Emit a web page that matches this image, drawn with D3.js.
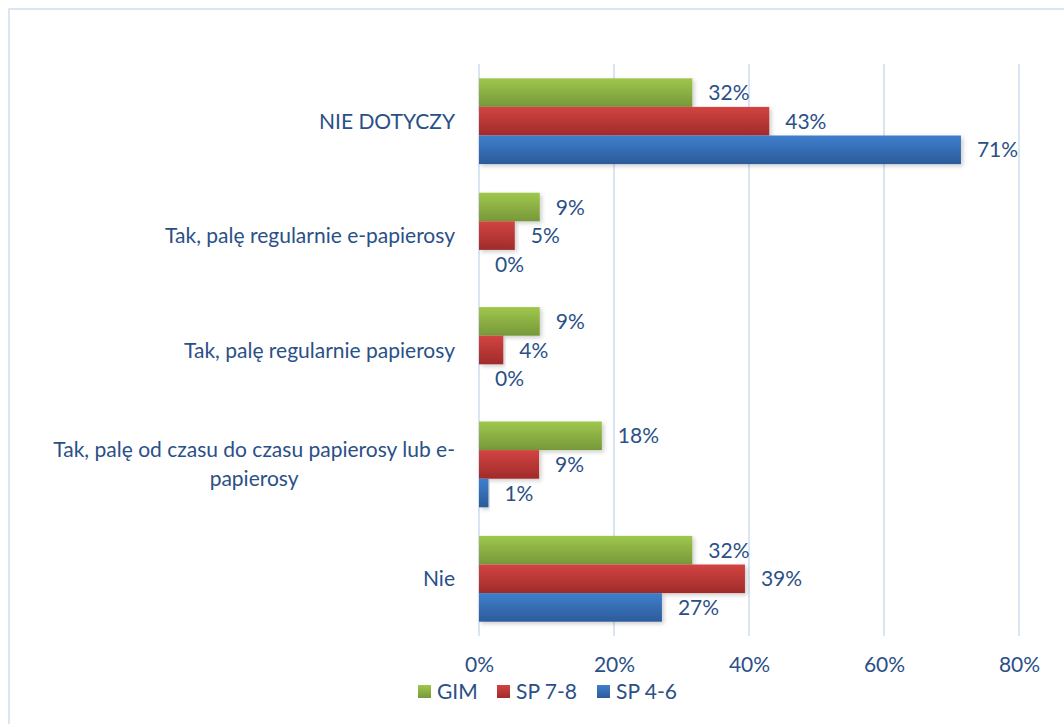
<!DOCTYPE html>
<html>
<head>
<meta charset="utf-8">
<script src="https://cdn.jsdelivr.net/npm/d3@7"></script>
<style>
  html, body { margin: 0; padding: 0; background: #fff; }
  svg { display: block; }
  text { font-family: Lato, "Open Sans", sans-serif; fill: #2a5087; }
</style>
</head>
<body>
<svg id="chart" width="1064" height="724"></svg>
<script>
const categories = [
  ["NIE DOTYCZY"],
  ["Tak, palę regularnie e-papierosy"],
  ["Tak, palę regularnie papierosy"],
  ["Tak, palę od czasu do czasu papierosy lub e-", "papierosy"],
  ["Nie"]
];
const seriesNames = ["GIM", "SP 7-8", "SP 4-6"];
const gim  = [31.6, 9.0, 9.0, 18.2, 31.6];
const sp78 = [43.0, 5.3, 3.6, 8.9, 39.4];
const sp46 = [71.4, 0.0, 0.0, 1.4, 27.1];
const tickValues = [0, 20, 40, 60, 80];
const seriesValues = [gim, sp78, sp46];
const colors = [
  ["#9fc74c", "#77983a"],
  ["#d24442", "#a02b2a"],
  ["#3f7fcd", "#2c5b9a"]
];
const FS = 21;

const svg = d3.select("#chart");
const defs = svg.append("defs");
colors.forEach((c, i) => {
  const g = defs.append("linearGradient").attr("id", "grad" + i)
    .attr("x1", 0).attr("y1", 0).attr("x2", 0).attr("y2", 1);
  g.append("stop").attr("offset", "0%").attr("stop-color", c[0]);
  g.append("stop").attr("offset", "100%").attr("stop-color", c[1]);
});
const f = defs.append("filter").attr("id", "shadow")
  .attr("x", "-5%").attr("y", "-20%").attr("width", "115%").attr("height", "160%");
f.append("feDropShadow").attr("dx", 2).attr("dy", 2).attr("stdDeviation", 2)
  .attr("flood-color", "#000").attr("flood-opacity", 0.2);

// frame
svg.append("path")
  .attr("d", "M9,724 L9,9 L1064,9")
  .attr("fill", "none").attr("stroke", "#dbe6f4").attr("stroke-width", 2);

const x = d3.scaleLinear().domain([0, 80]).range([479, 1019]);
const y = d3.scaleBand().domain(d3.range(categories.length)).range([64, 636]).paddingInner(0.25).paddingOuter(0.125);
const yInner = d3.scaleBand().domain(d3.range(seriesNames.length)).range([0, y.bandwidth()]);

// gridlines
svg.append("g").selectAll("line").data(tickValues).join("line")
  .attr("x1", d => x(d)).attr("x2", d => x(d))
  .attr("y1", 64).attr("y2", 636)
  .attr("stroke", "#d9e5f3").attr("stroke-width", 2);

// x axis labels via d3 axis
const xAxis = d3.axisBottom(x).tickValues(tickValues).tickFormat(d => d + "%").tickSize(0).tickPadding(0);
const ax = svg.append("g").attr("transform", "translate(0,657)").call(xAxis);
ax.select(".domain").remove();
ax.selectAll("text").attr("font-size", FS).attr("fill", "#2a5087")
  .style("font-family", "Lato, 'Open Sans', sans-serif");

// bars
seriesValues.forEach((vals, si) => {
  const g = svg.append("g");
  g.selectAll("rect").data(vals).join("rect")
    .attr("x", x(0))
    .attr("y", (d, i) => y(i) + yInner(si))
    .attr("width", d => x(d) - x(0))
    .attr("height", yInner.bandwidth())
    .attr("fill", "url(#grad" + si + ")")
    .attr("filter", "url(#shadow)");
  g.selectAll("text").data(vals).join("text")
    .attr("x", d => x(d) + 16)
    .attr("y", (d, i) => y(i) + yInner(si) + yInner.bandwidth() / 2)
    .attr("dy", "0.36em")
    .attr("font-size", FS)
    .text(d => Math.round(d) + "%");
});

// category labels
categories.forEach((lines, i) => {
  const cy = y(i) + y.bandwidth() / 2;
  const lh = 29;
  const t = svg.append("text").attr("font-size", FS).attr("text-anchor", "middle");
  lines.forEach((ln, li) => {
    t.append("tspan").attr("x", 0).attr("y", cy + (li - (lines.length - 1) / 2) * lh).attr("dy", "0.36em").text(ln);
  });
  let maxW = 0;
  t.selectAll("tspan").each(function() { maxW = Math.max(maxW, this.getComputedTextLength()); });
  t.selectAll("tspan").attr("x", 455 - maxW / 2);
});

// legend
const legX = [418, 497, 597];
const lg = svg.append("g");
seriesNames.forEach((n, i) => {
  lg.append("rect").attr("x", legX[i]).attr("y", 685).attr("width", 13).attr("height", 13)
    .attr("fill", "url(#grad" + i + ")");
  lg.append("text").attr("x", legX[i] + 19).attr("y", 691).attr("dy", "0.36em")
    .attr("font-size", FS).text(n);
});
</script>
</body>
</html>
